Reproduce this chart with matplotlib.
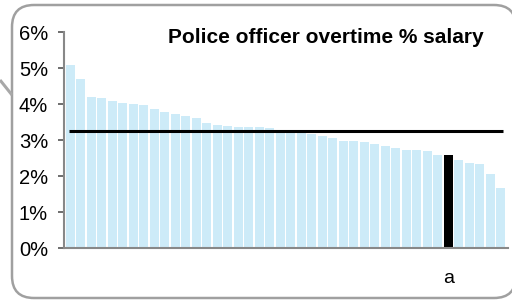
import matplotlib
matplotlib.use("Agg")
import matplotlib.pyplot as plt
import numpy as np
from matplotlib.patches import FancyBboxPatch
from matplotlib.ticker import PercentFormatter

plt.rcParams['font.family'] = ['Liberation Sans', 'DejaVu Sans']

# overtime as % of salary, one bar per officer group, sorted
values = [5.08, 4.69, 4.19, 4.17, 4.08, 4.03, 4.00, 3.97, 3.86, 3.78,
          3.72, 3.67, 3.61, 3.47, 3.42, 3.39, 3.36, 3.36, 3.36, 3.33,
          3.28, 3.25, 3.19, 3.17, 3.11, 3.06, 2.97, 2.97, 2.94, 2.89,
          2.83, 2.78, 2.72, 2.72, 2.69, 2.58, 2.58, 2.44, 2.36, 2.33,
          2.06, 1.67]
highlight = 36          # index of the black bar
highlight_label = 'a'
average = 3.26
title = 'Police officer overtime % salary'

fig = plt.figure(figsize=(5.12, 3.0), dpi=100)

# rounded frame + little callout stroke, drawn in pixel space
bg = fig.add_axes([0, 0, 1, 1])
bg.set_xlim(0, 512)
bg.set_ylim(300, 0)
bg.axis('off')
bg.add_patch(FancyBboxPatch((12, 5), 504, 293, boxstyle='round,pad=0,rounding_size=22',
                            fc='white', ec='#a0a0a0', lw=1.8))
bg.plot([0, 12], [80, 95], color='#a8a8a8', lw=2.2, solid_capstyle='butt')

ax = fig.add_axes([64 / 512, 52 / 300, 444 / 512, 216 / 300])
x = np.arange(len(values))
colors = ['#cdebf8'] * len(values)
colors[highlight] = 'black'
ax.bar(x, values, width=0.86, color=colors)
ax.hlines(average, x[0] - 0.1, x[-1] + 0.2, color='black', lw=2.2)

ax.set_xlim(-0.59, 41.7)
ax.set_ylim(0, 6)
ax.set_yticks(np.arange(0, 7, 1))
ax.yaxis.set_major_formatter(PercentFormatter(decimals=0))
ax.set_xticks([highlight])
ax.set_xticklabels([highlight_label])
ax.tick_params(axis='x', length=0, pad=16, labelsize=14)
ax.tick_params(axis='y', length=4.5, width=1.2, color='#555555', labelsize=14.5, pad=7)
for s in ['top', 'right']:
    ax.spines[s].set_visible(False)
for s in ['left', 'bottom']:
    ax.spines[s].set_color('#888888')
    ax.spines[s].set_linewidth(1.5)

ax.text(0.589, 0.949, title, transform=ax.transAxes, ha='center', va='baseline',
        fontsize=15, fontweight='bold')

fig.savefig('out.png', dpi=100)
